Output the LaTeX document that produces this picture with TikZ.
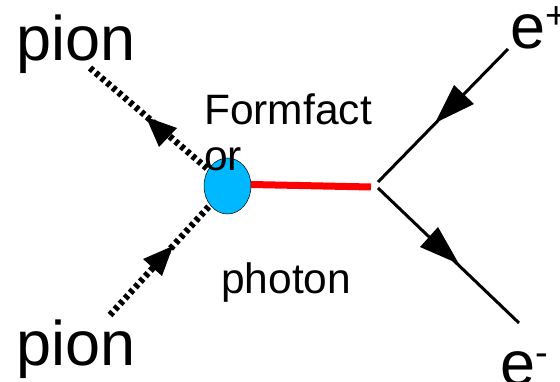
\documentclass[tikz,border=0pt]{standalone}
\usepackage{fontspec}
\setmainfont{Liberation Sans}
\usetikzlibrary{shapes.geometric}
\begin{document}
\begin{tikzpicture}[x=1pt,y=-1pt,
  lbl/.style={inner sep=0pt,anchor=base west,text=black},
  big/.style={lbl,font=\fontsize{63}{63}\selectfont},
  small/.style={lbl,font=\fontsize{42.5}{42.5}\selectfont},
  fermion/.style={line width=3pt,black},
  scalar/.style={line width=6.5pt,black,dash pattern=on 4pt off 3.5pt},
  tip/.style={fill=black,draw=none},
  blobstyle/.style={draw=black,line width=0.5pt,fill={rgb,255:red,0;green,184;blue,255},ellipse,minimum width=47pt,minimum height=56pt,inner sep=0pt}]
\useasboundingbox (0,0) rectangle (560,382);
\fill[white] (0,0) rectangle (560,382);
\coordinate (pa) at (90,68);
\coordinate (pb) at (110,315);
\coordinate (ep) at (508,49);
\coordinate (em) at (519,323);
\coordinate (v1) at (378,182);
\coordinate (v2) at (378,188);
\coordinate (rs) at (371,187);
\node[blobstyle] (blob) at (227.5,186) {};
\draw[scalar] (pa) -- (blob);
\draw[scalar] (pb) -- (blob);
\draw[line width=7pt,red] (251,184.5) -- (rs);
\draw[fermion] (ep) -- (v1);
\draw[fermion] (v2) -- (em);
\fill[tip] (146,117) -- (177,128) -- (159,147) -- cycle;
\fill[tip] (173,246) -- (143,259) -- (162,276) -- cycle;
\fill[tip] (435,123) -- (454,85) -- (474,104) -- cycle;
\fill[tip] (459,264) -- (438,227) -- (420,247) -- cycle;
\node[big] (t1) at (16,61) {pion};
\node[big] (t2) at (16,365) {pion};
\node[big] (t3) at (510,49) {e\raisebox{20pt}{\fontsize{38}{38}\selectfont +}};
\node[big] (t4) at (500,385) {e\raisebox{20pt}{\fontsize{38}{38}\selectfont -}};
\node[small] (t5) at (204,125) {Formfact};
\node[small] (t6) at (204,171) {or};
\node[small] (t7) at (221,294) {photon};
\end{tikzpicture}
\end{document}
